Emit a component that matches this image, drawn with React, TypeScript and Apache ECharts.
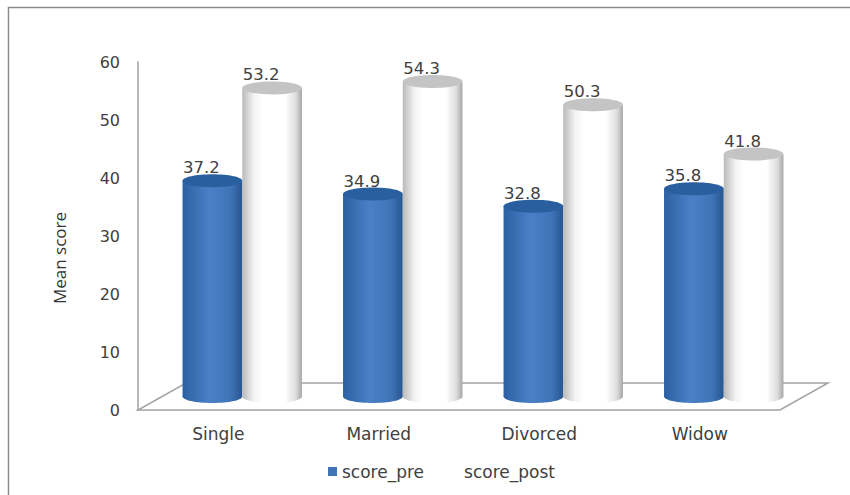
import React, { useEffect, useRef } from "react";
import * as echarts from "echarts";

const categories = ["Single", "Married", "Divorced", "Widow"];
const scorePre = [37.2, 34.9, 32.8, 35.8];
const scorePost = [53.2, 54.3, 50.3, 41.8];
const yTickStep = 10;
const yMax = 60;

const labelFont = "DejaVu Sans";
const textColor = "#404040";

// Full floor depth; cylinders stand halfway along it.
const depthX = 48;
const depthY = -27;
const barWidthRatio = 0.372;
const capRy = 6.5;

const blueBody = {
  type: "linear", x: 0, y: 0, x2: 1, y2: 0,
  colorStops: [
    { offset: 0, color: "#2c60a3" },
    { offset: 0.45, color: "#4a80c6" },
    { offset: 0.8, color: "#3f74b8" },
    { offset: 1, color: "#28568f" },
  ],
};
const whiteBody = {
  type: "linear", x: 0, y: 0, x2: 1, y2: 0,
  colorStops: [
    { offset: 0, color: "#b9b9b9" },
    { offset: 0.2, color: "#f4f4f4" },
    { offset: 0.35, color: "#ffffff" },
    { offset: 0.72, color: "#ffffff" },
    { offset: 0.9, color: "#dcdcdc" },
    { offset: 1, color: "#a6a6a6" },
  ],
};

// One cylinder per data item, offset sideways by half a bar for its series.
function cylinder(side: number, body: any, cap: string) {
  return (_params: any, api: any) => {
    const index = api.value(0);
    const value = api.value(1);
    const band = api.size([1, 0])[0];
    const width = band * barWidthRatio;
    const top = api.coord([index, value]);
    const base = api.coord([index, 0]);
    const cx = top[0] + depthX / 2 + (side * width) / 2;
    const topY = top[1] + depthY / 2;
    const baseY = base[1] + depthY / 2;
    return {
      type: "group",
      children: [
        { type: "ellipse", shape: { cx, cy: baseY, rx: width / 2, ry: capRy }, style: { fill: body } },
        { type: "rect", shape: { x: cx - width / 2, y: topY, width, height: baseY - topY }, style: { fill: body } },
        { type: "ellipse", shape: { cx, cy: topY, rx: width / 2, ry: capRy }, style: { fill: cap } },
        {
          type: "text",
          x: cx - 11,
          y: topY - 13,
          style: {
            text: value.toFixed(1),
            fill: textColor,
            font: `16.5px '${labelFont}'`,
            align: "center",
            verticalAlign: "middle",
          },
        },
      ],
    };
  };
}

// Parallelogram of the chart floor, taken from the grid's own rectangle.
function floor(params: any, api: any) {
  const grid = params.coordSys;
  const y0 = api.coord([0, 0])[1];
  return {
    type: "polygon",
    shape: {
      points: [
        [grid.x, y0],
        [grid.x + grid.width, y0],
        [grid.x + grid.width + depthX, y0 + depthY],
        [grid.x + depthX, y0 + depthY],
      ],
    },
    style: { fill: "#ffffff", stroke: "#a3a3a3", lineWidth: 1.5 },
  };
}

export default function App() {
  const ref = useRef<HTMLDivElement>(null);

  useEffect(() => {
    document.body.style.margin = "0";
    const chart = echarts.init(ref.current!, null, { renderer: "svg" });
    chart.setOption({
      animation: false,
      backgroundColor: "#ffffff",
      textStyle: { fontFamily: labelFont },
      grid: { left: 138, right: 70, top: 62, bottom: 85 },
      graphic: [
        {
          type: "rect",
          shape: { x: 8.5, y: 7.5, width: 900, height: 600 },
          style: { fill: "none", stroke: "#8c8c8c", lineWidth: 1.5 },
          silent: true,
        },
        {
          type: "text",
          x: 59,
          y: 258,
          rotation: Math.PI / 2,
          style: {
            text: "Mean score",
            fill: "#333333",
            font: "17px 'Open Sans'",
            align: "center",
            verticalAlign: "middle",
          },
          silent: true,
        },
      ],
      legend: {
        data: ["score_pre", "score_post"],
        left: 323,
        top: 458,
        icon: "rect",
        itemWidth: 9,
        itemHeight: 9,
        itemGap: 26,
        textStyle: { color: textColor, fontSize: 17, fontFamily: labelFont },
      },
      xAxis: {
        type: "category",
        data: categories,
        axisLine: { show: false },
        axisTick: { show: false },
        axisLabel: { color: textColor, fontSize: 17, margin: 15 },
      },
      yAxis: {
        type: "value",
        min: 0,
        max: yMax,
        interval: yTickStep,
        splitLine: { show: false },
        axisTick: { show: false },
        axisLine: { show: true, lineStyle: { color: "#b8b8b8", width: 2 } },
        axisLabel: { color: textColor, fontSize: 16, margin: 18, padding: [3, 0, 0, 0] },
      },
      series: [
        {
          name: "floor",
          type: "custom",
          data: [[0, 0]],
          encode: { x: 0, y: 1 },
          z: 1,
          silent: true,
          renderItem: floor,
        },
        {
          name: "score_pre",
          type: "custom",
          data: scorePre.map((v, i) => [i, v]),
          encode: { x: 0, y: 1 },
          itemStyle: { color: "#3f74b5" },
          z: 2,
          renderItem: cylinder(-1, blueBody, "#2a5f9f"),
        },
        {
          name: "score_post",
          type: "custom",
          data: scorePost.map((v, i) => [i, v]),
          encode: { x: 0, y: 1 },
          itemStyle: { color: "#ffffff" },
          z: 3,
          renderItem: cylinder(1, whiteBody, "#c4c4c4"),
        },
      ],
    });
    return () => chart.dispose();
  }, []);

  return <div ref={ref} style={{ width: 850, height: 495 }} />;
}
